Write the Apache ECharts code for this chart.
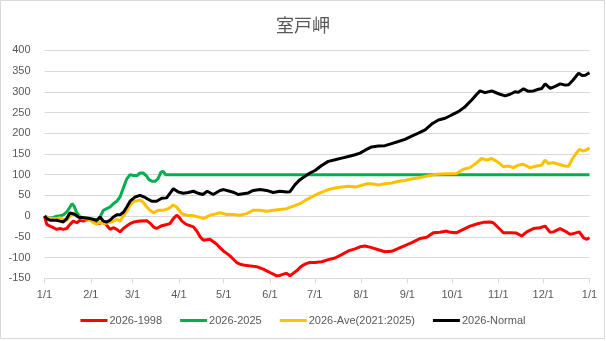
<!DOCTYPE html>
<html>
<head>
<meta charset="utf-8">
<script src="https://cdn.jsdelivr.net/npm/echarts@6/dist/echarts.min.js"></script>
<style>
  html, body { margin: 0; padding: 0; background: #fff; }
  #chart { width: 606px; height: 341px; }
</style>
</head>
<body>
<div id="chart"></div>
<script>
// Day-of-year offsets of each month start, and their labels
const monthStarts = [0, 31, 59, 90, 120, 151, 181, 212, 243, 273, 304, 334, 365];
const monthLabels = ['1/1', '2/1', '3/1', '4/1', '5/1', '6/1', '7/1', '8/1', '9/1', '10/1', '11/1', '12/1', '1/1'];

const seriesNames = ['2026-1998', '2026-2025', '2026-Ave(2021:2025)', '2026-Normal'];

// 2026-1998
const redDays = [0,1.5,3.7,6,8.2,10.4,12.6,14.9,17.1,19.3,21.6,23.8,26,28.3,30.5,32.7,35,37.2,39.4,41.7,43.9,46.1,48.4,50.6,52.8,55.1,57.3,60,64,68.5,71,73,75,78,80,84,86.3,88.5,90,92,95,99.7,102,104.2,106.4,108.6,110.8,113.1,115.3,117.5,119.8,122,124.2,126.5,128.7,131,133.2,135.4,137.6,139.8,142.1,144.3,146.5,148.8,151,153.2,155.5,157.7,160,162.2,164.4,166.6,168.9,171.1,173.3,175.6,177.8,181.2,185.6,190.1,194.6,199,203.5,208,211.3,214.7,219.1,223.6,228,232.5,237,241.4,244.8,247,251.5,256,260.4,264.9,269.4,271.6,276.1,280.5,285,289.5,293.9,298.4,300.6,304,307.3,311.8,316,319.6,323,327.4,331.9,335.2,338.6,340.8,345.3,348.6,352,355.3,358.2,360.9,363.2,365];
const redValues = [0,-20,-24,-28,-32,-30,-32,-30,-20,-12,-16,-10,-12,-8,-9,-12,-18,-17,-14,-22,-32,-28,-32,-38,-30,-24,-18,-14,-12,-11,-18,-26,-30,-24,-22,-18,-6,2,-2,-12,-20,-26,-36,-50,-58,-57,-56,-62,-68,-76,-84,-90,-96,-104,-112,-116,-118,-119,-120,-121,-122,-125,-128,-132,-136,-140,-144,-143,-140,-138,-144,-138,-132,-124,-118,-114,-112,-112,-110,-105,-101,-93,-84,-79,-74,-72,-76,-81,-86,-85,-78,-71,-66,-62,-54,-51,-40,-39,-36,-39,-40,-32,-24,-19,-15,-14,-16,-28,-40,-40,-41,-48,-38,-30,-28,-24,-39,-38,-30,-36,-44,-41,-38,-52,-56,-52];

// 2026-2025
const greenDays = [0,3,6,8.2,10.4,12.6,14.9,17.1,18.5,19.8,21.6,23.8,26,30.5,33,35,37.2,39.4,41.7,43.9,46.1,48.4,50.6,52.8,55.1,57.3,59.5,62,64,66,68,70,72,74,76,78,79.5,81,365];
const greenValues = [0,-5,-3,0,1,3,10,22,30,24,8,-2,-4,-6,-8,-12,-2,14,18,22,30,36,46,68,90,100,98,98,104,104,98,88,84,84,90,106,108,100,100];

// 2026-Ave(2021:2025)
const yellowDays = [0,3.7,8.2,10.4,12.6,14.9,17.1,19.3,21.6,26,30.5,32.7,35,37.2,39.4,41.7,43.9,46.1,48.4,50.6,52.8,55.1,57.3,59.5,62,64,66,68.5,70.7,72.9,76.2,79.6,82.9,86.3,88.5,91.9,95.2,99.7,104.2,106.4,110.8,115.3,117.5,122,126.4,130.9,135.4,139.8,144.3,148.8,153.2,157.7,162.2,166.6,171.1,175.6,180,184.5,190.1,194.6,199,203.5,208,212,216,219.1,223.6,228,232.5,237,241.4,244.8,251.5,258.2,262.6,269.4,276.1,280.5,285,289.5,292.8,296.2,299.5,302.9,305,307.3,310.7,314,317.4,320.7,325.2,329.7,333,335.2,337.5,340.8,344.2,348.6,351,353.7,356,358.2,360.9,363.2,365];
const yellowValues = [0,-6,-6,-4,-8,-10,0,8,0,-6,-8,-16,-20,-14,-18,-17,-15,-12,-8,-12,0,12,26,35,37,39,34,22,14,8,14,14,18,27,22,6,2,1,-3,-6,2,6,8,4,4,2,6,14,14,12,14,16,18,24,30,40,48,56,64,68,70,72,70,74,78,78,75,78,80,84,86,89,93,98,101,102,103,113,117,129,139,135,139,132,127,119,121,117,123,125,117,121,123,135,127,129,125,121,120,139,151,161,157,160,165];

// 2026-Normal
const blackDays = [0,1.5,3.7,6,8.2,10.4,12.6,14.9,17.1,18.2,20.4,23,26,30.5,33,35,37.2,39.4,41.7,43.9,46.1,48.4,50.6,53,55.1,57.3,60.6,64,67.3,71.8,75.1,78.5,81.8,84,86.3,89.6,93,96.3,99.7,103,106,109,113,117.5,120,124,127,129.8,133.1,136.5,139.8,144.3,148.8,153.2,157.7,162.2,164.4,167.8,171.1,174.5,177.8,181.2,185.6,190.1,194.6,199,203.5,208,211.3,214.7,219.1,223.6,228,232.5,237,241.4,245.9,250.4,254.9,259.3,263.8,268.3,272.7,277.2,281.7,286.1,289.5,291.7,295,299.5,302.9,305.1,308.5,311.8,315.2,317.4,320.8,324.1,327.5,330.8,333.1,335.3,338.7,342,345.4,348.7,351,353.7,355.5,357.7,360,362.2,365];
const blackValues = [0,-6,-10,-10,-10,-12,-14,-6,8,11,4,-3,-4,-6,-8,-10,-2,-12,-14,-10,-2,3,3,10,22,36,46,50,45,36,36,43,44,55,66,58,55,57,60,55,52,60,52,62,64,60,57,52,54,56,62,64,62,57,60,58,59,76,88,96,104,110,122,132,136,140,144,148,152,159,167,169,170,175,180,185,193,200,208,222,232,236,244,252,264,280,294,302,298,302,297,294,290,294,300,299,307,301,302,306,308,319,308,313,319,316,317,327,335,345,339,340,346];

const seriesColors = ['#FF0000', '#00B050', '#FFC000', '#000000'];
const dayLists = [redDays, greenDays, yellowDays, blackDays];
const valueLists = [redValues, greenValues, yellowValues, blackValues];

const pairUp = (days, vals) => days.map((d, i) => [d, vals[i]]);
const labelFont = 'Liberation Sans, Arial, sans-serif';

const chart = echarts.init(document.getElementById('chart'), null, { renderer: 'canvas' });
chart.setOption({
  animation: false,
  backgroundColor: '#ffffff',
  title: {
    text: '室戸岬',
    left: 'center',
    top: 11,
    textStyle: {
      fontFamily: 'Noto Sans CJK JP, sans-serif',
      fontSize: 18,
      fontWeight: 'normal',
      color: '#595959'
    }
  },
  graphic: [{
    type: 'rect',
    shape: { x: 0.5, y: 0.5, width: 604, height: 338 },
    style: { fill: 'none', stroke: '#D9D9D9', lineWidth: 1 },
    silent: true,
    z: -1
  }],
  legend: {
    bottom: 10,
    left: 'center',
    icon: 'rect',
    itemWidth: 27,
    itemHeight: 3,
    itemGap: 18,
    textStyle: { fontFamily: labelFont, fontSize: 11, color: '#595959', padding: [0, 0, 0, -3] },
    data: seriesNames
  },
  grid: { left: 44.5, right: 16.5, top: 50.3, bottom: 62.7, containLabel: false },
  xAxis: {
    type: 'value',
    min: 0,
    max: 365,
    axisLine: { show: true, onZero: false, lineStyle: { color: '#D9D9D9', width: 1 } },
    axisTick: { show: true, length: 5, lineStyle: { color: '#D9D9D9' }, customValues: monthStarts },
    axisLabel: {
      customValues: monthStarts,
      formatter: v => monthLabels[monthStarts.indexOf(v)],
      color: '#595959',
      fontFamily: labelFont,
      fontSize: 11,
      margin: 11
    },
    splitLine: { show: false }
  },
  yAxis: {
    type: 'value',
    min: -150,
    max: 400,
    interval: 50,
    axisLine: { show: false },
    axisTick: { show: false },
    axisLabel: { color: '#595959', fontFamily: labelFont, fontSize: 11, margin: 14 },
    splitLine: { lineStyle: { color: '#D9D9D9', width: 1 } }
  },
  series: seriesNames.map((name, i) => ({
    name,
    type: 'line',
    data: pairUp(dayLists[i], valueLists[i]),
    symbol: 'none',
    color: seriesColors[i],
    lineStyle: { color: seriesColors[i], width: 3 },
    z: 2 + i
  }))
});
</script>
</body>
</html>
